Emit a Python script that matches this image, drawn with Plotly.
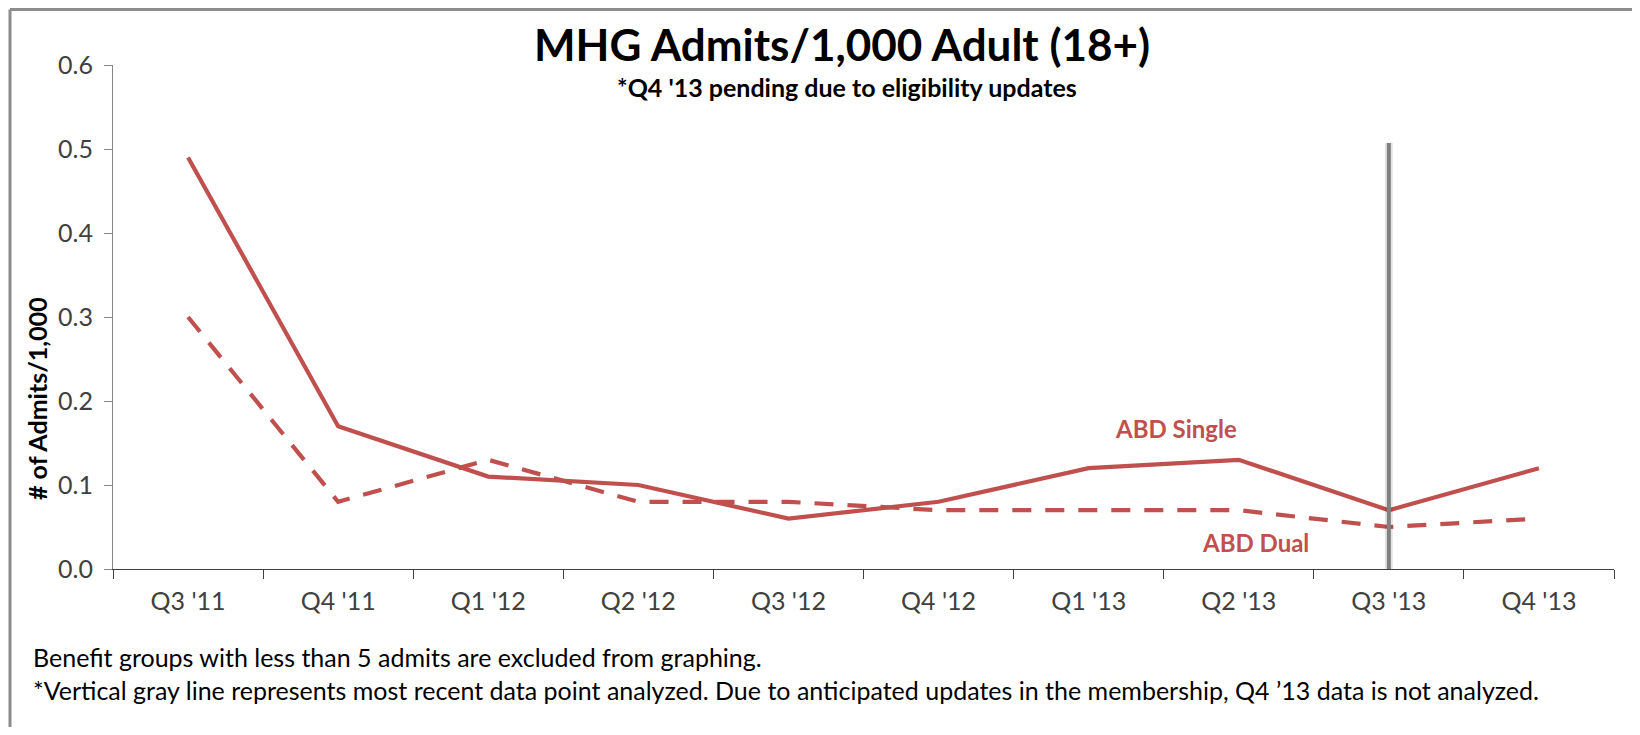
import plotly.graph_objects as go

categories = ["Q3 '11", "Q4 '11", "Q1 '12", "Q2 '12", "Q3 '12",
              "Q4 '12", "Q1 '13", "Q2 '13", "Q3 '13", "Q4 '13"]
abd_single = [0.49, 0.17, 0.11, 0.10, 0.06, 0.08, 0.12, 0.13, 0.07, 0.12]
abd_dual = [0.30, 0.08, 0.13, 0.08, 0.08, 0.07, 0.07, 0.07, 0.05, 0.06]
last_analyzed = "Q3 '13"
y_ticks = [0.0, 0.1, 0.2, 0.3, 0.4, 0.5, 0.6]

title_text = "MHG Admits/1,000 Adult (18+)"
subtitle_text = "*Q4 '13 pending due to eligibility updates"
ytitle_text = "# of Admits/1,000"
foot1 = "Benefit groups with less than 5 admits are excluded from graphing."
foot2 = ("*Vertical gray line represents most recent data point analyzed. "
         "Due to anticipated updates in the membership, Q4 \u201913 data is not analyzed.")

RED = "#C0504D"
FONT = "Lato, 'Open Sans', sans-serif"

# page body has an 8px margin; figure is sized to avoid scrollbars
OFF = 8
W, H = 1624, 719
# plot area in page pixels: x 113..1614, y 65..569
L = 113 - OFF
R = W - (1614 - OFF)
T = 65 - OFF
B = H - (569 - OFF)
pw, ph = W - L - R, H - T - B


def px_x(x):
    return (x - OFF - L) / pw


def px_y(y):
    return (H - B - (y - OFF)) / ph


fig = go.Figure()

fig.add_trace(go.Scatter(
    x=categories, y=abd_single, mode="lines", name="ABD Single",
    line=dict(color=RED, width=4.2), showlegend=False, hoverinfo="x+y"))
fig.add_trace(go.Scatter(
    x=categories, y=abd_dual, mode="lines", name="ABD Dual",
    line=dict(color=RED, width=4.2, dash="19px,14px"), showlegend=False, hoverinfo="x+y"))

# vertical gray marker line (soft shadow + line)
fig.add_shape(type="line", xref="x", yref="y", x0=last_analyzed, x1=last_analyzed,
              y0=0, y1=0.507, line=dict(color="rgba(0,0,0,0.10)", width=8), layer="above")
fig.add_shape(type="line", xref="x", yref="y", x0=last_analyzed, x1=last_analyzed,
              y0=0, y1=0.507, line=dict(color="#808080", width=4), layer="above")

# outer frame (top and left edges visible)
fig.add_shape(type="line", xref="paper", yref="paper",
              x0=px_x(10), x1=px_x(1700), y0=px_y(9.5), y1=px_y(9.5),
              line=dict(color="#8c8c8c", width=3))
fig.add_shape(type="line", xref="paper", yref="paper",
              x0=px_x(10), x1=px_x(10), y0=px_y(9.5), y1=px_y(760),
              line=dict(color="#8c8c8c", width=3))

ann = []
ann.append(dict(text=title_text, xref="paper", yref="paper", x=px_x(842), y=px_y(44),
                xanchor="center", yanchor="middle", showarrow=False,
                font=dict(family=FONT, size=44, color="#000000", weight="bold")))
ann.append(dict(text=subtitle_text, xref="paper", yref="paper", x=px_x(847), y=px_y(87),
                xanchor="center", yanchor="middle", showarrow=False,
                font=dict(family=FONT, size=25, color="#000000", weight="bold")))
ann.append(dict(text=ytitle_text, xref="paper", yref="paper", x=px_x(37), y=px_y(399),
                xanchor="center", yanchor="middle", showarrow=False, textangle=-90,
                font=dict(family=FONT, size=25, color="#000000", weight="bold")))
ann.append(dict(text="ABD Single", xref="paper", yref="paper", x=px_x(1176), y=px_y(428),
                xanchor="center", yanchor="middle", showarrow=False,
                font=dict(family=FONT, size=24, color=RED, weight="bold")))
ann.append(dict(text="ABD Dual", xref="paper", yref="paper", x=px_x(1255), y=px_y(542),
                xanchor="center", yanchor="middle", showarrow=False,
                font=dict(family=FONT, size=24, color=RED, weight="bold")))
ann.append(dict(text=foot1, xref="paper", yref="paper", x=px_x(31), y=px_y(657),
                xanchor="left", yanchor="middle", showarrow=False,
                font=dict(family=FONT, size=25, color="#000000")))
ann.append(dict(text=foot2, xref="paper", yref="paper", x=px_x(31), y=px_y(690),
                xanchor="left", yanchor="middle", showarrow=False,
                font=dict(family=FONT, size=25, color="#000000")))

fig.update_layout(
    width=W, height=H,
    margin=dict(l=L, r=R, t=T, b=B),
    paper_bgcolor="white", plot_bgcolor="white",
    annotations=ann,
    font=dict(family=FONT, color="#404040"),
    xaxis=dict(type="category", categoryorder="array", categoryarray=categories,
               range=[-0.5, len(categories) - 0.5], tickson="boundaries",
               ticks="outside", ticklen=9, tickwidth=1.3, tickcolor="#404040",
               showline=True, linecolor="#404040", linewidth=1.3,
               showgrid=False, zeroline=False, ticklabelstandoff=10,
               tickfont=dict(family=FONT, size=25, color="#404040")),
    yaxis=dict(range=[0, 0.6], tickvals=y_ticks, tickformat=".1f",
               ticks="outside", ticklen=8, tickcolor="#868686", tickwidth=1,
               showline=True, linecolor="#868686", linewidth=1,
               showgrid=False, zeroline=False, ticklabelstandoff=6,
               tickfont=dict(family=FONT, size=25, color="#404040")),
)

fig.write_html("out.html")
